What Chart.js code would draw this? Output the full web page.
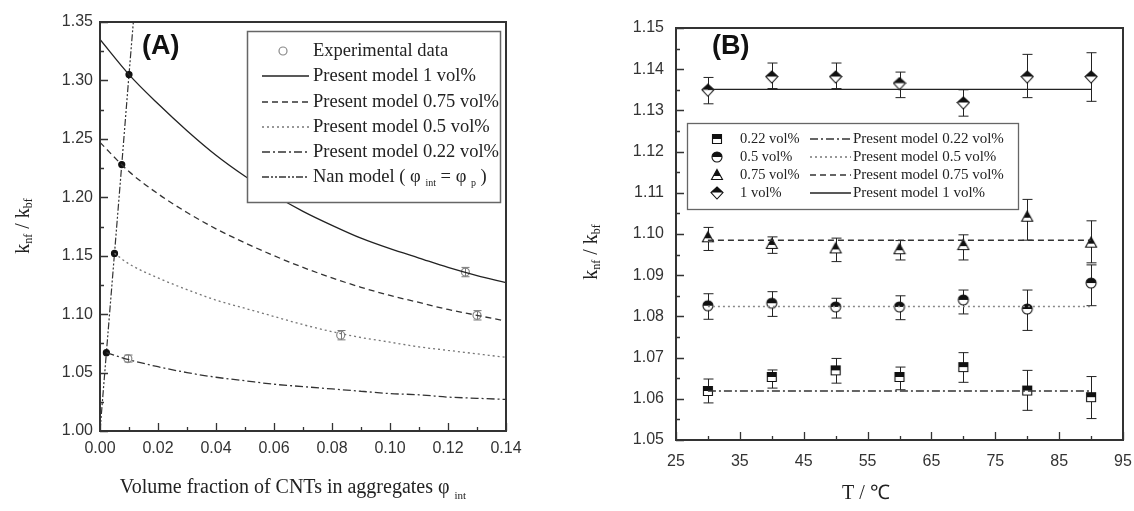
<!DOCTYPE html>
<html lang="en">
<head>
<meta charset="UTF-8">
<title>k_nf / k_bf - panels A and B</title>
<script src="https://cdn.jsdelivr.net/npm/chart.js"></script>
<style>
    body { margin: 0; background: #fff; }
    #wrap { position: relative; width: 1134px; height: 511px; background: #fff; }
    #chartA { position: absolute; left: 0; top: 0; }
    #chartB { position: absolute; left: 560px; top: 0; }
</style>
</head>
<body>
<div id="wrap">
    <canvas id="chartA" width="560" height="511"></canvas>
    <canvas id="chartB" width="574" height="511"></canvas>
</div>

<script>
    // ---------- Panel A data ----------
    const aX = [0, 0.01, 0.02, 0.03, 0.04, 0.05, 0.06, 0.07, 0.08, 0.09, 0.10, 0.11, 0.12, 0.13, 0.14];
    const aModel1 = [1.335, 1.305, 1.280, 1.257, 1.236, 1.218, 1.202, 1.188, 1.176, 1.165, 1.156, 1.148, 1.140, 1.133, 1.127];
    const aModel075 = [1.247, 1.222, 1.203, 1.187, 1.173, 1.161, 1.150, 1.140, 1.131, 1.123, 1.116, 1.110, 1.104, 1.099, 1.094];
    const aX05 = [0.005, 0.01, 0.02, 0.03, 0.04, 0.05, 0.06, 0.07, 0.08, 0.09, 0.10, 0.11, 0.12, 0.13, 0.14];
    const aModel05 = [1.152, 1.143, 1.131, 1.121, 1.112, 1.105, 1.098, 1.091, 1.085, 1.080, 1.076, 1.072, 1.069, 1.066, 1.063];
    const aX022 = [0.0022, 0.01, 0.02, 0.03, 0.04, 0.05, 0.06, 0.07, 0.08, 0.09, 0.10, 0.11, 0.12, 0.13, 0.14];
    const aModel022 = [1.067, 1.061, 1.055, 1.050, 1.046, 1.043, 1.040, 1.038, 1.036, 1.034, 1.032, 1.031, 1.029, 1.028, 1.027];
    const nanX = [0, 0.0022, 0.005, 0.0075, 0.01, 0.0115];
    const nanY = [1.000, 1.067, 1.152, 1.228, 1.305, 1.350];
    const nanDots = [0, 3, 3, 3, 3, 0];
    const expX = [0.0096, 0.083, 0.126, 0.130];
    const expY = [1.062, 1.082, 1.136, 1.099];
    const expErr = [0.003, 0.004, 0.004, 0.004];

    // ---------- Panel B data ----------
    const temps = [30, 40, 50, 60, 70, 80, 90];
    const b022 = [1.0619, 1.0653, 1.0669, 1.0653, 1.0677, 1.0620, 1.0604];
    const b022Hi = [1.0648, 1.0670, 1.0698, 1.0677, 1.0712, 1.0669, 1.0654];
    const b022Lo = [1.0590, 1.0626, 1.0638, 1.0622, 1.0640, 1.0572, 1.0552];
    const b05 = [1.0826, 1.0832, 1.0823, 1.0823, 1.0840, 1.0818, 1.0881];
    const b05Hi = [1.0855, 1.0860, 1.0844, 1.0850, 1.0864, 1.0864, 1.0925];
    const b05Lo = [1.0793, 1.0800, 1.0796, 1.0792, 1.0806, 1.0766, 1.0826];
    const b075 = [1.0992, 1.0976, 1.0965, 1.0963, 1.0973, 1.1042, 1.0979];
    const b075Hi = [1.1016, 1.0993, 1.0990, 1.0984, 1.0998, 1.1084, 1.1032];
    const b075Lo = [1.0960, 1.0953, 1.0933, 1.0937, 1.0937, 1.0985, 1.0930];
    const b1 = [1.1349, 1.1381, 1.1381, 1.1365, 1.1318, 1.1381, 1.1381];
    const b1Hi = [1.1380, 1.1415, 1.1415, 1.1393, 1.1350, 1.1436, 1.1440];
    const b1Lo = [1.1316, 1.1353, 1.1353, 1.1331, 1.1286, 1.1331, 1.1322];
    const modelT = [30, 90];
    const bModel022 = [1.0619, 1.0619];
    const bModel05 = [1.0824, 1.0824];
    const bModel075 = [1.0985, 1.0985];
    const bModel1 = [1.1351, 1.1351];

    const pts = (xs, ys) => xs.map((x, i) => ({ x: x, y: ys[i] }));
    const SANS = "'Liberation Sans', Arial, sans-serif";
    const SERIF = "'Liberation Serif', 'Times New Roman', serif";

    // half-filled markers for panel B
    function makeMarker(shape) {
        const c = document.createElement('canvas');
        c.width = 14; c.height = 14;
        const g = c.getContext('2d');
        const path = () => {
            g.beginPath();
            if (shape === 'square') g.rect(2.5, 2.5, 9, 9);
            else if (shape === 'circle') g.arc(7, 7, 5, 0, Math.PI * 2);
            else if (shape === 'triangle') { g.moveTo(7, 1.5); g.lineTo(12.5, 11.5); g.lineTo(1.5, 11.5); g.closePath(); }
            else { g.moveTo(7, 1); g.lineTo(13, 6.5); g.lineTo(7, 13); g.lineTo(1, 6.5); g.closePath(); }
        };
        path(); g.fillStyle = '#fff'; g.fill();
        g.save(); path(); g.clip(); g.fillStyle = '#111';
        g.fillRect(0, 0, 14, shape === 'triangle' ? 8 : (shape === 'diamond' ? 6.5 : 7));
        g.restore();
        path(); g.lineWidth = 1.1; g.strokeStyle = '#111'; g.stroke();
        return c;
    }
    const mkSquare = makeMarker('square');
    const mkCircle = makeMarker('circle');
    const mkTriangle = makeMarker('triangle');
    const mkDiamond = makeMarker('diamond');

    // text with subscripts
    function richWidth(ctx, parts) {
        let w = 0;
        parts.forEach(p => { ctx.font = p.s + 'px ' + SERIF; w += ctx.measureText(p.t).width; });
        return w;
    }
    function drawRich(ctx, parts, x, y, align) {
        let cx = align === 'center' ? x - richWidth(ctx, parts) / 2 : x;
        ctx.textAlign = 'left';
        ctx.textBaseline = 'middle';
        parts.forEach(p => {
            ctx.font = p.s + 'px ' + SERIF;
            ctx.fillText(p.t, cx, y + (p.dy || 0));
            cx += ctx.measureText(p.t).width;
        });
    }

    // inward ticks and the frame
    const majorTests = {
        chartA: { x: v => Math.round(v / 0.01) % 2 === 0, y: v => Math.round((v - 1) / 0.025) % 2 === 0 },
        chartB: { x: v => Math.round(v - 25) % 10 === 0, y: v => Math.round((v - 1.05) / 0.005) % 2 === 0 }
    };
    const frameTicks = {
        id: 'frameTicks',
        afterDraw(chart) {
            const { ctx, chartArea: a, scales } = chart;
            const mt = majorTests[chart.canvas.id];
            ctx.save();
            ctx.strokeStyle = '#333';
            ctx.lineWidth = 1.3;
            ctx.beginPath();
            scales.x.ticks.forEach(t => {
                const px = Math.round(scales.x.getPixelForValue(t.value)) + 0.5;
                const len = mt.x(t.value) ? 8 : 4;
                ctx.moveTo(px, a.bottom); ctx.lineTo(px, a.bottom - len);
            });
            scales.y.ticks.forEach(t => {
                const py = Math.round(scales.y.getPixelForValue(t.value)) + 0.5;
                const len = mt.y(t.value) ? 8 : 4;
                ctx.moveTo(a.left, py); ctx.lineTo(a.left + len, py);
            });
            ctx.stroke();
            ctx.lineWidth = 2;
            ctx.strokeRect(a.left, a.top, a.right - a.left, a.bottom - a.top);
            ctx.restore();
        }
    };

    // error bars from dataset arrays
    const errorBars = {
        id: 'errorBars',
        beforeDatasetsDraw(chart) {
            const { ctx, scales } = chart;
            ctx.save();
            chart.data.datasets.forEach(ds => {
                if (!ds.errHi) return;
                ctx.strokeStyle = ds.errColor;
                ctx.lineWidth = 1;
                ctx.beginPath();
                ds.data.forEach((p, i) => {
                    const px = Math.round(scales.x.getPixelForValue(p.x)) + 0.5;
                    const yt = scales.y.getPixelForValue(ds.errHi[i]);
                    const yb = scales.y.getPixelForValue(ds.errLo[i]);
                    const cap = ds.capW;
                    ctx.moveTo(px, yt); ctx.lineTo(px, yb);
                    ctx.moveTo(px - cap, yt); ctx.lineTo(px + cap, yt);
                    ctx.moveTo(px - cap, yb); ctx.lineTo(px + cap, yb);
                });
                ctx.stroke();
            });
            ctx.restore();
        }
    };

    function tickFont() { return { family: SANS, size: 16 }; }
    // fixed axis size, no extra edge padding from the labels
    const fixX = h => s => { s.height = h; s.paddingLeft = 0; s.paddingRight = 0; };
    const fixY = w => s => { s.width = w; s.paddingTop = 0; s.paddingBottom = 0; };

    // ---------- Panel A ----------
    const decorA = {
        id: 'decorA',
        afterDraw(chart) {
            const ctx = chart.ctx;
            ctx.save();
            ctx.fillStyle = '#111';
            ctx.font = 'bold 27px ' + SANS;
            ctx.textAlign = 'left'; ctx.textBaseline = 'middle';
            ctx.fillText('(A)', 142, 47);

            // legend box
            ctx.fillStyle = '#fff';
            ctx.fillRect(247, 31, 254, 172);
            ctx.strokeStyle = '#666'; ctx.lineWidth = 1.5;
            ctx.strokeRect(247.5, 31.5, 253, 171);
            const rows = [51, 76, 102, 127, 152, 177];
            ctx.beginPath(); ctx.arc(283, rows[0], 4, 0, Math.PI * 2);
            ctx.strokeStyle = '#888'; ctx.lineWidth = 1.2; ctx.stroke();
            const dashes = [[], [6, 4], [2, 3], [8, 3, 2, 3], [7, 2, 2, 2, 2, 2]];
            const cols = ['#222', '#333', '#777', '#333', '#333'];
            dashes.forEach((d, i) => {
                ctx.beginPath(); ctx.setLineDash(d);
                ctx.strokeStyle = cols[i]; ctx.lineWidth = 1.3;
                ctx.moveTo(262, rows[i + 1]); ctx.lineTo(309, rows[i + 1]); ctx.stroke();
            });
            ctx.setLineDash([]);
            ctx.fillStyle = '#222';
            const labels = ['Experimental data', 'Present model 1 vol%', 'Present model 0.75 vol%',
                'Present model 0.5 vol%', 'Present model 0.22 vol%'];
            labels.forEach((t, i) => drawRich(ctx, [{ t: t, s: 18.5 }], 313, rows[i], 'left'));
            drawRich(ctx, [{ t: 'Nan model ( φ ', s: 18.5 }, { t: 'int', s: 10, dy: 6 },
                { t: ' = φ ', s: 18.5 }, { t: 'p', s: 10, dy: 6 }, { t: ' )', s: 18.5 }], 313, rows[5], 'left');

            // axis titles
            drawRich(ctx, [{ t: 'Volume fraction of CNTs in aggregates φ ', s: 20 }, { t: 'int', s: 11, dy: 8 }], 293, 488, 'center');
            ctx.translate(24, 226);
            ctx.rotate(-Math.PI / 2);
            drawRich(ctx, [{ t: 'k', s: 20 }, { t: 'nf', s: 12, dy: 5 }, { t: ' / k', s: 20 }, { t: 'bf', s: 12, dy: 5 }], 0, 0, 'center');
            ctx.restore();
        }
    };

    const lineA = (label, xs, ys, dash, color) => ({
        label: label, data: pts(xs, ys), showLine: true, borderColor: color, borderWidth: 1.3,
        borderDash: dash, pointRadius: 0, cubicInterpolationMode: 'monotone', fill: false
    });

    new Chart(document.getElementById('chartA'), {
        type: 'scatter',
        data: {
            datasets: [
                lineA('Present model 1 vol%', aX, aModel1, [], '#222'),
                lineA('Present model 0.75 vol%', aX, aModel075, [6, 4], '#333'),
                lineA('Present model 0.5 vol%', aX05, aModel05, [2, 3], '#777'),
                lineA('Present model 0.22 vol%', aX022, aModel022, [8, 3, 2, 3], '#333'),
                {
                    label: 'Nan model', data: pts(nanX, nanY), showLine: true, borderColor: '#333',
                    borderWidth: 1.2, borderDash: [7, 2, 2, 2, 2, 2], tension: 0,
                    pointRadius: nanDots, pointBackgroundColor: '#111', pointBorderColor: '#111'
                },
                {
                    label: 'Experimental data', data: pts(expX, expY), showLine: false,
                    pointStyle: 'circle', pointRadius: 4, pointBorderColor: '#888', pointBorderWidth: 1.2,
                    pointBackgroundColor: 'rgba(255,255,255,0)',
                    errHi: expY.map((v, i) => v + expErr[i]), errLo: expY.map((v, i) => v - expErr[i]),
                    errColor: '#777', capW: 4
                }
            ]
        },
        options: {
            responsive: false,
            animation: false,
            layout: { padding: { top: 22, right: 54, left: 0, bottom: 0 } },
            plugins: { legend: { display: false }, tooltip: { enabled: false } },
            scales: {
                x: {
                    type: 'linear', min: 0, max: 0.14,
                    afterFit: fixX(80),
                    border: { display: false },
                    grid: { display: false, drawTicks: false },
                    ticks: {
                        stepSize: 0.01, autoSkip: false, maxRotation: 0, padding: 8, color: '#333', font: tickFont(),
                        callback: v => majorTests.chartA.x(v) ? v.toFixed(2) : ''
                    }
                },
                y: {
                    type: 'linear', min: 1.0, max: 1.35,
                    afterFit: fixY(100),
                    border: { display: false },
                    grid: { display: false, drawTicks: false },
                    ticks: {
                        stepSize: 0.025, autoSkip: false, padding: 7, color: '#333', font: tickFont(),
                        callback: v => majorTests.chartA.y(v) ? v.toFixed(2) : ''
                    }
                }
            }
        },
        plugins: [errorBars, frameTicks, decorA]
    });

    // ---------- Panel B ----------
    const decorB = {
        id: 'decorB',
        afterDraw(chart) {
            const ctx = chart.ctx;
            ctx.save();
            ctx.fillStyle = '#111';
            ctx.font = 'bold 27px ' + SANS;
            ctx.textAlign = 'left'; ctx.textBaseline = 'middle';
            ctx.fillText('(B)', 152, 47);

            // legend box
            ctx.fillStyle = '#fff';
            ctx.fillRect(127, 123, 332, 87);
            ctx.strokeStyle = '#666'; ctx.lineWidth = 1.3;
            ctx.strokeRect(127.5, 123.5, 331, 86);
            const rows = [139, 157, 175, 193];
            const marks = [mkSquare, mkCircle, mkTriangle, mkDiamond];
            const names = ['0.22 vol%', '0.5 vol%', '0.75 vol%', '1 vol%'];
            const dashes = [[8, 3, 2, 3], [2, 3], [6, 4], []];
            const cols = ['#333', '#777', '#333', '#222'];
            ctx.fillStyle = '#222';
            rows.forEach((y, i) => {
                ctx.drawImage(marks[i], 157 - 7, y - 7);
                drawRich(ctx, [{ t: names[i], s: 14.5 }], 180, y, 'left');
                ctx.beginPath(); ctx.setLineDash(dashes[i]);
                ctx.strokeStyle = cols[i]; ctx.lineWidth = 1.3;
                ctx.moveTo(250, y); ctx.lineTo(291, y); ctx.stroke();
                ctx.setLineDash([]);
                drawRich(ctx, [{ t: 'Present model ' + names[i], s: 15 }], 293, y, 'left');
            });

            // axis titles
            drawRich(ctx, [{ t: 'T / ℃', s: 20 }], 306, 494, 'center');
            ctx.translate(32, 252);
            ctx.rotate(-Math.PI / 2);
            drawRich(ctx, [{ t: 'k', s: 20 }, { t: 'nf', s: 12, dy: 5 }, { t: ' / k', s: 20 }, { t: 'bf', s: 12, dy: 5 }], 0, 0, 'center');
            ctx.restore();
        }
    };

    const pointsB = (label, ys, hi, lo, marker) => ({
        label: label, data: pts(temps, ys), showLine: false,
        pointStyle: marker, pointRadius: 6,
        errHi: hi, errLo: lo, errColor: '#222', capW: 5
    });
    const lineB = (label, ys, dash, color) => ({
        label: label, data: pts(modelT, ys), showLine: true, borderColor: color,
        borderWidth: 1.4, borderDash: dash, pointRadius: 0, fill: false
    });

    new Chart(document.getElementById('chartB'), {
        type: 'scatter',
        data: {
            datasets: [
                lineB('Present model 0.22 vol%', bModel022, [8, 3, 2, 3], '#333'),
                lineB('Present model 0.5 vol%', bModel05, [2, 3], '#888'),
                lineB('Present model 0.75 vol%', bModel075, [6, 4], '#333'),
                lineB('Present model 1 vol%', bModel1, [], '#222'),
                pointsB('0.22 vol%', b022, b022Hi, b022Lo, mkSquare),
                pointsB('0.5 vol%', b05, b05Hi, b05Lo, mkCircle),
                pointsB('0.75 vol%', b075, b075Hi, b075Lo, mkTriangle),
                pointsB('1 vol%', b1, b1Hi, b1Lo, mkDiamond)
            ]
        },
        options: {
            responsive: false,
            animation: false,
            layout: { padding: { top: 28, right: 11, left: 0, bottom: 0 } },
            plugins: { legend: { display: false }, tooltip: { enabled: false } },
            scales: {
                x: {
                    type: 'linear', min: 25, max: 95,
                    afterFit: fixX(71),
                    border: { display: false },
                    grid: { display: false, drawTicks: false },
                    ticks: {
                        stepSize: 5, autoSkip: false, maxRotation: 0, padding: 12, color: '#333', font: tickFont(),
                        callback: v => majorTests.chartB.x(v) ? String(Math.round(v)) : ''
                    }
                },
                y: {
                    type: 'linear', min: 1.05, max: 1.15,
                    afterFit: fixY(116),
                    border: { display: false },
                    grid: { display: false, drawTicks: false },
                    ticks: {
                        stepSize: 0.005, autoSkip: false, padding: 12, color: '#333', font: tickFont(),
                        callback: v => majorTests.chartB.y(v) ? v.toFixed(2) : ''
                    }
                }
            }
        },
        plugins: [errorBars, frameTicks, decorB]
    });
</script>
</body>
</html>
